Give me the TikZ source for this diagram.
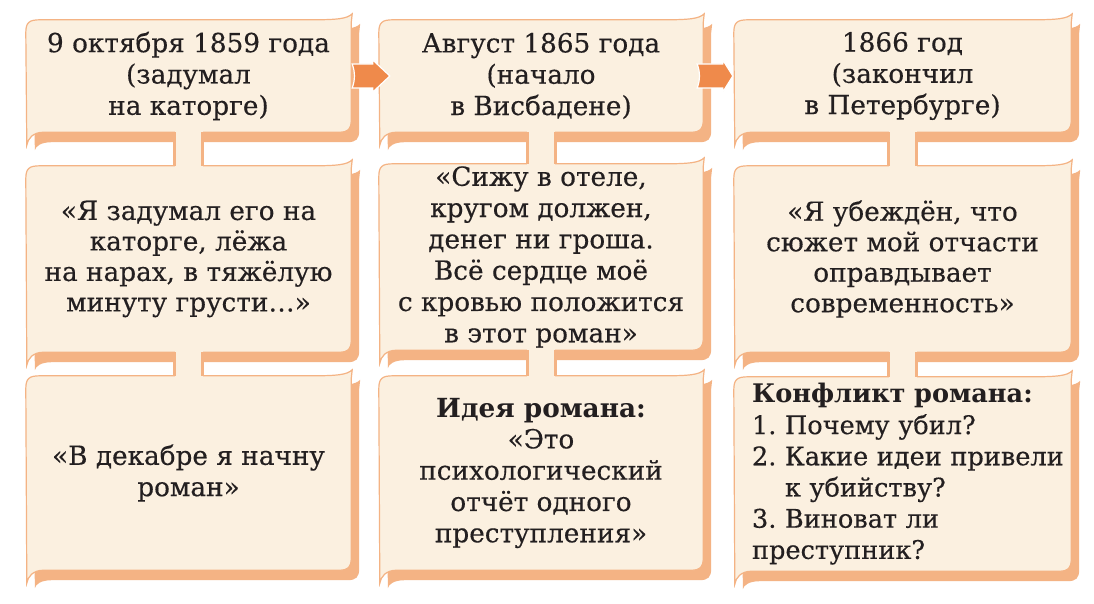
\documentclass[tikz,border=0pt]{standalone}
\usepackage{fontspec}
\setmainfont{DejaVu Serif}[UprightFeatures={FakeBold=0.35}]
\usetikzlibrary{calc}
\definecolor{cream}{HTML}{FBF0E0}
\definecolor{peach}{HTML}{F4B384}
\definecolor{arrowor}{HTML}{EF8A4B}
\definecolor{ink}{HTML}{231F20}
\pgfdeclarelayer{shadowL}
\pgfdeclarelayer{cardL}
\pgfdeclarelayer{barL}
\pgfsetlayers{shadowL,cardL,barL,main}
% #1 style, #2 node, #3 dx, #4 dy, #5 tip depth
\newcommand\cardshape[5]{%
 \path[#1] ([shift={(#3,13+#4)}]#2.north west)
 .. controls ([shift={(#3,3+#4)}]#2.north west) and ([shift={(3+#3,#4)}]#2.north west) .. ([shift={(14+#3,#4)}]#2.north west)
 -- ([shift={(-40+#3,#4)}]#2.north east)
 .. controls ([shift={(-14+#3,#4)}]#2.north east) and ([shift={(-4+#3,-1+#4)}]#2.north east) .. ([shift={(1+#3,-6+#4)}]#2.north east)
 -- ([shift={(#3,3+#4)}]#2.north east)
 -- ([shift={(#3,-12+#4)}]#2.south east)
 .. controls ([shift={(#3,-3+#4)}]#2.south east) and ([shift={(-3+#3,#4)}]#2.south east) .. ([shift={(-12+#3,#4)}]#2.south east)
 -- ([shift={(18+#3,#4)}]#2.south west)
 .. controls ([shift={(7+#3,#4)}]#2.south west) and ([shift={(2+#3,#5/2+#4)}]#2.south west) .. ([shift={(1+#3,#5+#4)}]#2.south west)
 -- cycle;}
\newcommand\card[1]{%
 \begin{pgfonlayer}{shadowL}\cardshape{fill=peach}{#1}{8}{10}{8}\end{pgfonlayer}%
 \begin{pgfonlayer}{cardL}\cardshape{cardbody}{#1}{0}{0}{13}\end{pgfonlayer}}
\newcommand\barconn[2]{%
 \begin{pgfonlayer}{barL}
 \fill[cream] ([shift={(-14,-1)}]#1.south) rectangle ([shift={(14,1)}]#2.north);
 \draw[barline] ([xshift=-14]#1.south) -- ([xshift=-14]#2.north)
                ([xshift=14]#1.south) -- ([xshift=14]#2.north);
 \end{pgfonlayer}}
% #1 from node, #2 start dx, #3 to node, #4 head-back dx, #5 tip dx
\newcommand\bigarrow[5]{%
 \begin{pgfonlayer}{barL}
 \filldraw[arrowbody] ([shift={(#2,-12)}]#1.east) -- ([shift={(#4,-12)}]#3.west)
   -- ([shift={(#4,-16)}]#3.west) -- ([shift={(#5,0)}]#3.west)
   -- ([shift={(#4,16)}]#3.west) -- ([shift={(#4,12)}]#3.west)
   -- ([shift={(#2,12)}]#1.east) .. controls ([shift={(#2+3,4)}]#1.east) and ([shift={(#2+3,-4)}]#1.east) .. cycle;
 \end{pgfonlayer}}
\tikzset{
 cardbody/.style={fill=cream,draw=peach,line width=1.2pt},
 barline/.style={draw=peach,line width=3pt},
 arrowbody/.style={fill=arrowor,draw=white,line width=1.2pt,line join=miter},
 cardnode/.style={inner sep=0pt,align=center,text=ink,
   font=\fontsize{26.3}{31.3}\selectfont\frenchspacing},
}
\begin{document}
\begin{tikzpicture}[x=1pt,y=-1pt]
\useasboundingbox (0,0) rectangle (1094,604);
\begin{pgfonlayer}{shadowL}
\fill[white] (0,0) rectangle (1094,604);
\end{pgfonlayer}
% top row
\node[cardnode,minimum width=325pt,minimum height=112pt] (c11) at (188.5,76)
  {9 октября 1859 года\\(задумал\\на каторге)};
\node[cardnode,minimum width=324pt,minimum height=112pt] (c21) at (541,76)
  {Август 1865 года\\(начало\\в Висбадене)};
\node[cardnode,minimum width=337pt,minimum height=112pt] (c31) at (902.5,76)
  {1866 год\\(закончил\\в Петербурге)};
% middle row
\node[cardnode,minimum width=325pt,minimum height=186pt,font=\fontsize{26.3}{30.5}\selectfont\frenchspacing] (c12) at (188.5,259)
  {«Я задумал его на\\каторге, лёжа\\на нарах, в тяжёлую\\минуту грусти…»};
\node[cardnode,minimum width=324pt,minimum height=186pt] (c22) at (541,257)
  {«Сижу в отеле,\\кругом должен,\\денег ни гроша.\\Всё сердце моё\\с кровью положится\\в этот роман»};
\node[cardnode,minimum width=337pt,minimum height=186pt,font=\fontsize{26.3}{30.5}\selectfont\frenchspacing] (c32) at (902.5,259)
  {«Я убеждён, что\\сюжет мой отчасти\\оправдывает\\современность»};
% bottom row
\node[cardnode,minimum width=325pt,minimum height=194pt] (c13) at (188.5,473)
  {«В декабре я начну\\роман»};
\node[cardnode,minimum width=324pt,minimum height=194pt] (c23) at (541,473)
  {\textbf{Идея романа:}\\«Это\\психологический\\отчёт одного\\преступления»};
\node[cardnode,minimum width=337pt,minimum height=194pt,text width=301pt,align=left,font=\fontsize{25.6}{31.2}\selectfont\frenchspacing] (c33) at (902.5,474)
  {\textbf{Конфликт романа:}\\1.~Почему~убил?\\2.~Какие~идеи~привели\\\hphantom{2.~}к~убийству?\\3.~Виноват~ли\\преступник?};
% card shapes
\card{c11}\card{c21}\card{c31}
\card{c12}\card{c22}\card{c32}
\card{c13}\card{c23}\card{c33}
% vertical connectors
\barconn{c11}{c12}\barconn{c12}{c13}
\barconn{c21}{c22}\barconn{c22}{c23}
\barconn{c31}{c32}\barconn{c32}{c33}
% arrows
\bigarrow{c11}{1}{c21}{-6}{11}
\bigarrow{c21}{-6}{c31}{-11}{-1}
\end{tikzpicture}
\end{document}
